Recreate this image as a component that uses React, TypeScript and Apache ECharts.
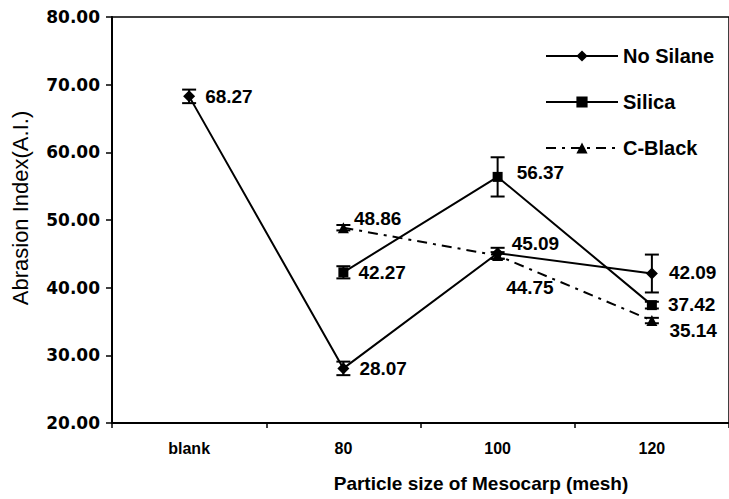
import React, { useEffect, useRef } from "react";
import * as echarts from "echarts";

const categories = ["blank", "80", "100", "120"];
const noSilane = [68.27, 28.07, 45.09, 42.09];
const silica: (number | null)[] = [null, 42.27, 56.37, 37.42];
const cBlack: (number | null)[] = [null, 48.86, 44.75, 35.14];
const noSilaneErr = [1.0, 1.0, 0.8, 2.8];
const silicaErr: (number | null)[] = [null, 0.9, 2.9, 0.5];
const cBlackErr: (number | null)[] = [null, 0.4, 0.5, 0.4];
const yTicks = { min: 20, max: 80, step: 10 };

const FONT = "'Liberation Sans', Arial, sans-serif";

// label offsets per point (style only)
const noSilaneLabel = [
  { position: "right", offset: [0, 0] },
  { position: "right", offset: [0, 0] },
  { position: "right", offset: [-2, -10] },
  { position: "right", offset: [1, -1] },
];
const silicaLabel = [
  null,
  { position: "right", offset: [0, 0] },
  { position: "right", offset: [4, -4] },
  { position: "right", offset: [1, -1] },
];
const cBlackLabel = [
  null,
  { position: "right", offset: [-5, -9] },
  { position: "right", offset: [-7, 32] },
  { position: "right", offset: [2, 10] },
];

function buildData(vals: (number | null)[], labels: any[]) {
  return vals.map((v, i) =>
    v === null
      ? null
      : {
          value: v,
          label: {
            position: labels[i].position,
            offset: labels[i].offset,
          },
        }
  );
}

function errData(vals: (number | null)[], errs: (number | null)[]) {
  const out: number[][] = [];
  vals.forEach((v, i) => {
    const e = errs[i];
    if (v !== null && e !== null && e !== undefined) out.push([i, v - e, v + e]);
  });
  return out;
}

function errSeries(data: number[][]) {
  return {
    type: "custom",
    silent: true,
    z: 3,
    data,
    encode: { x: 0, y: [1, 2] },
    renderItem: (params: any, api: any) => {
      const x = api.value(0);
      const lo = api.coord([x, api.value(1)]);
      const hi = api.coord([x, api.value(2)]);
      const cw = 7;
      const style = { stroke: "#000", lineWidth: 2 };
      return {
        type: "group",
        children: [
          { type: "line", shape: { x1: lo[0], y1: lo[1], x2: hi[0], y2: hi[1] }, style },
          { type: "line", shape: { x1: lo[0] - cw, y1: lo[1], x2: lo[0] + cw, y2: lo[1] }, style },
          { type: "line", shape: { x1: hi[0] - cw, y1: hi[1], x2: hi[0] + cw, y2: hi[1] }, style },
        ],
      };
    },
  };
}

const labelStyle = {
  show: true,
  fontSize: 19,
  fontWeight: "bold",
  fontFamily: FONT,
  color: "#000",
  distance: 10,
  formatter: (p: any) => Number(p.value).toFixed(2),
};

export default function App() {
  const ref = useRef<HTMLDivElement>(null);
  useEffect(() => {
    const chart = echarts.init(ref.current!, null, { renderer: "svg" });
    chart.setOption({
      animation: false,
      backgroundColor: "#fff",
      grid: {
        left: 112,
        top: 17,
        width: 622,
        height: 406,
        show: true,
        borderColor: "#000",
        borderWidth: 1.5,
      },
      legend: {
        orient: "vertical",
        left: 540,
        top: 41,
        itemWidth: 72,
        itemHeight: 14,
        itemGap: 26,
        textStyle: { fontSize: 20, fontWeight: "bold", fontFamily: FONT, color: "#000" },
        data: ["No Silane", "Silica", "C-Black"],
      },
      xAxis: {
        type: "category",
        data: categories,
        boundaryGap: true,
        axisLine: { show: true, lineStyle: { color: "#000", width: 2 } },
        axisTick: { show: true, length: 5, lineStyle: { color: "#000", width: 1.5 } },
        axisLabel: {
          fontSize: 16,
          fontWeight: "bold",
          fontFamily: FONT,
          color: "#000",
          margin: 17,
        },
        splitLine: { show: false },
      },
      yAxis: {
        type: "value",
        min: yTicks.min,
        max: yTicks.max,
        interval: yTicks.step,
        axisLine: { show: true, lineStyle: { color: "#000", width: 2 } },
        axisTick: { show: true, length: 6, lineStyle: { color: "#000", width: 1.5 } },
        axisLabel: {
          fontSize: 17,
          fontWeight: "bold",
          fontFamily: "'DejaVu Sans', sans-serif",
          color: "#000",
          margin: 12,
          formatter: (v: number) => v.toFixed(2),
        },
        splitLine: { show: false },
      },
      graphic: [
        {
          type: "text",
          x: 20,
          y: 208,
          rotation: Math.PI / 2,
          style: {
            text: "Abrasion Index(A.I.)",
            fontSize: 22,
            fontFamily: FONT,
            fill: "#000",
            align: "center",
            verticalAlign: "middle",
          },
        },
        {
          type: "text",
          x: 481,
          y: 483,
          style: {
            text: "Particle size of Mesocarp (mesh)",
            fontSize: 19,
            fontWeight: "bold",
            fontFamily: FONT,
            fill: "#000",
            align: "center",
            verticalAlign: "middle",
          },
        },
      ],
      series: [
        {
          name: "No Silane",
          type: "line",
          data: buildData(noSilane, noSilaneLabel),
          symbol: "diamond",
          symbolSize: 12,
          itemStyle: { color: "#000" },
          lineStyle: { color: "#000", width: 2 },
          label: labelStyle,
          z: 4,
        },
        {
          name: "Silica",
          type: "line",
          data: buildData(silica, silicaLabel),
          symbol: "rect",
          symbolSize: 10,
          itemStyle: { color: "#000" },
          lineStyle: { color: "#000", width: 2 },
          label: labelStyle,
          z: 4,
        },
        {
          name: "C-Black",
          type: "line",
          data: buildData(cBlack, cBlackLabel),
          symbol: "triangle",
          symbolSize: 11,
          itemStyle: { color: "#000" },
          lineStyle: { color: "#000", width: 2, type: [10, 6, 3, 6] },
          label: labelStyle,
          z: 4,
        },
        errSeries(errData(noSilane, noSilaneErr)),
        errSeries(errData(silica, silicaErr)),
        errSeries(errData(cBlack, cBlackErr)),
      ],
    });
    return () => chart.dispose();
  }, []);
  return <div ref={ref} style={{ width: 729, height: 499, position: "absolute", left: 0, top: 0 }} />;
}
